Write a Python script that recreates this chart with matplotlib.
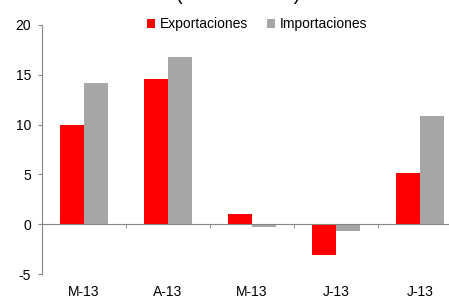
import numpy as np
import matplotlib
matplotlib.use("Agg")
from matplotlib import pyplot as plt

plt.rcParams['font.family'] = ['Liberation Sans', 'DejaVu Sans']

meses = ["M-13", "A-13", "M-13", "J-13", "J-13"]
exportaciones = [10.0, 14.6, 1.0, -3.1, 5.1]
importaciones = [14.2, 16.8, -0.3, -0.7, 10.9]
y_ticks = [-5, 0, 5, 10, 15, 20]

rojo = "#FF0000"
gris = "#A6A6A6"
eje = "#868686"

fig = plt.figure(figsize=(4.49, 2.98), dpi=100)
ax = fig.add_axes([42 / 449, 1 - 274 / 298, 420 / 449, 249 / 298])

x = np.arange(len(meses))
w = 24 / 84
ax.bar(x - w / 2, exportaciones, w, color=rojo, label="Exportaciones", zorder=2)
ax.bar(x + w / 2, importaciones, w, color=gris, label="Importaciones", zorder=2)

ax.set_xlim(-0.5, len(meses) - 0.5)
ax.set_ylim(-5, 20)
ax.set_yticks(y_ticks)
ax.set_yticklabels([str(v) for v in y_ticks], fontsize=10)

# x axis line sits at zero, labels stay at the bottom
ax.spines['bottom'].set_position(('data', 0))
ax.spines['bottom'].set_color(eje)
ax.spines['left'].set_color(eje)
ax.spines['top'].set_visible(False)
ax.spines['right'].set_visible(False)
ax.set_xticks(x)
ax.set_xticklabels(meses, fontsize=10)
ax.set_xticks(np.arange(len(meses) - 1) + 0.5, minor=True)
ax.tick_params(axis='x', which='major', length=0, pad=44)
ax.tick_params(axis='x', which='minor', length=3, color=eje, direction='out')
ax.tick_params(axis='y', length=3, color=eje, direction='out', pad=5)

ax.legend(loc='center', bbox_to_anchor=(257 / 449, 1 - 24 / 298),
          bbox_transform=fig.transFigure, ncol=2, frameon=False, fontsize=10,
          handlelength=0.6, handleheight=0.6, handletextpad=0.3,
          columnspacing=1.4, borderpad=0)

# title sits mostly above the top edge, only the bracket tails show
fig.text(238 / 449, 1 + 0.3 / 298, "(var. % anual)", fontsize=14.5,
         ha='center', va='baseline')

plt.savefig("out.png", dpi=100)
